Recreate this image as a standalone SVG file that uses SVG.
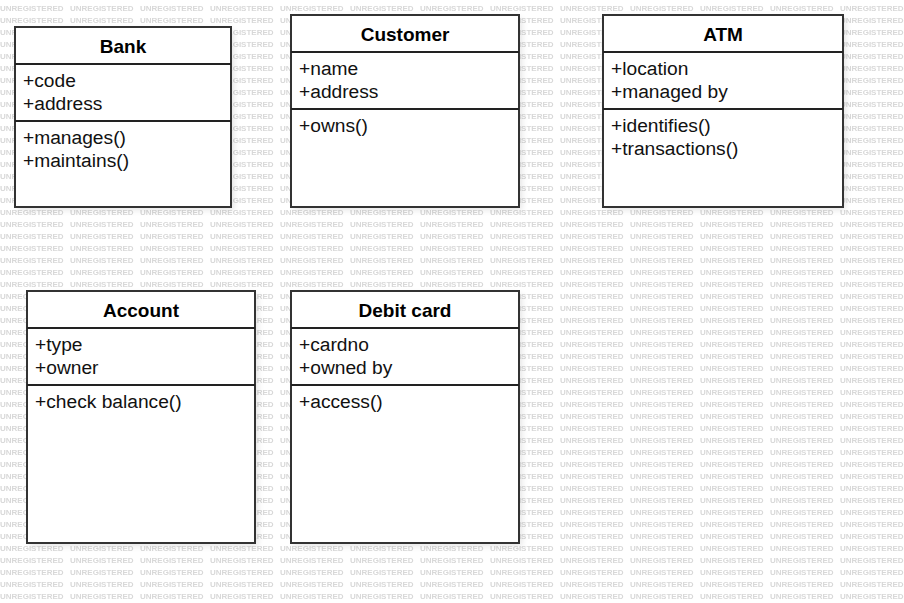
<svg xmlns="http://www.w3.org/2000/svg" width="904" height="603" viewBox="0 0 904 603">
<defs>
<pattern id="wm" patternUnits="userSpaceOnUse" x="0" y="0" width="70" height="12">
<text x="0" y="11.3" font-family="Liberation Sans, Arial, sans-serif" font-size="8" font-weight="bold" fill="#d8d8d8">UNREGISTERED</text>
</pattern>
<filter id="sh" x="-10%" y="-10%" width="130%" height="130%">
<feGaussianBlur stdDeviation="3"/>
</filter>
</defs>
<style>
.box{fill:#fff;stroke:#333;stroke-width:2}
.shadow{fill:#000;opacity:0.10;filter:url(#sh)}
.sep{stroke:#222;stroke-width:2}
.title{font-family:"Liberation Sans",Arial,sans-serif;font-size:19px;font-weight:bold;fill:#000;text-anchor:middle}
.item{font-family:"Liberation Sans",Arial,sans-serif;font-size:19.2px;fill:#111}
</style>
<rect width="904" height="603" fill="#fff"/>
<rect width="904" height="603" fill="url(#wm)"/>

<g id="bank">
<rect class="shadow" x="18" y="30" width="216" height="180"/>
<rect class="box" x="15" y="27" width="216" height="180"/>
<line class="sep" x1="15" y1="64" x2="231" y2="64"/>
<line class="sep" x1="15" y1="121" x2="231" y2="121"/>
<text class="title" x="123" y="52.5">Bank</text>
<text class="item" x="23" y="86.5">+code</text>
<text class="item" x="23" y="109.5">+address</text>
<text class="item" x="23" y="143.5">+manages()</text>
<text class="item" x="23" y="166.5">+maintains()</text>
</g>

<g id="customer">
<rect class="shadow" x="294" y="18" width="228" height="192"/>
<rect class="box" x="291" y="15" width="228" height="192"/>
<line class="sep" x1="291" y1="52" x2="519" y2="52"/>
<line class="sep" x1="291" y1="109" x2="519" y2="109"/>
<text class="title" x="405" y="40.5">Customer</text>
<text class="item" x="299" y="74.5">+name</text>
<text class="item" x="299" y="97.5">+address</text>
<text class="item" x="299" y="131.5">+owns()</text>
</g>

<g id="atm">
<rect class="shadow" x="606" y="18" width="240" height="192"/>
<rect class="box" x="603" y="15" width="240" height="192"/>
<line class="sep" x1="603" y1="52" x2="843" y2="52"/>
<line class="sep" x1="603" y1="109" x2="843" y2="109"/>
<text class="title" x="723" y="40.5">ATM</text>
<text class="item" x="611" y="74.5">+location</text>
<text class="item" x="611" y="97.5">+managed by</text>
<text class="item" x="611" y="131.5">+identifies()</text>
<text class="item" x="611" y="154.5">+transactions()</text>
</g>

<g id="account">
<rect class="shadow" x="30" y="294" width="228" height="252"/>
<rect class="box" x="27" y="291" width="228" height="252"/>
<line class="sep" x1="27" y1="328" x2="255" y2="328"/>
<line class="sep" x1="27" y1="385" x2="255" y2="385"/>
<text class="title" x="141" y="316.5">Account</text>
<text class="item" x="35" y="350.5">+type</text>
<text class="item" x="35" y="373.5">+owner</text>
<text class="item" x="35" y="407.5">+check balance()</text>
</g>

<g id="debit-card">
<rect class="shadow" x="294" y="294" width="228" height="252"/>
<rect class="box" x="291" y="291" width="228" height="252"/>
<line class="sep" x1="291" y1="328" x2="519" y2="328"/>
<line class="sep" x1="291" y1="385" x2="519" y2="385"/>
<text class="title" x="405" y="316.5">Debit card</text>
<text class="item" x="299" y="350.5">+cardno</text>
<text class="item" x="299" y="373.5">+owned by</text>
<text class="item" x="299" y="407.5">+access()</text>
</g>

<g id="connectors"></g>
</svg>
